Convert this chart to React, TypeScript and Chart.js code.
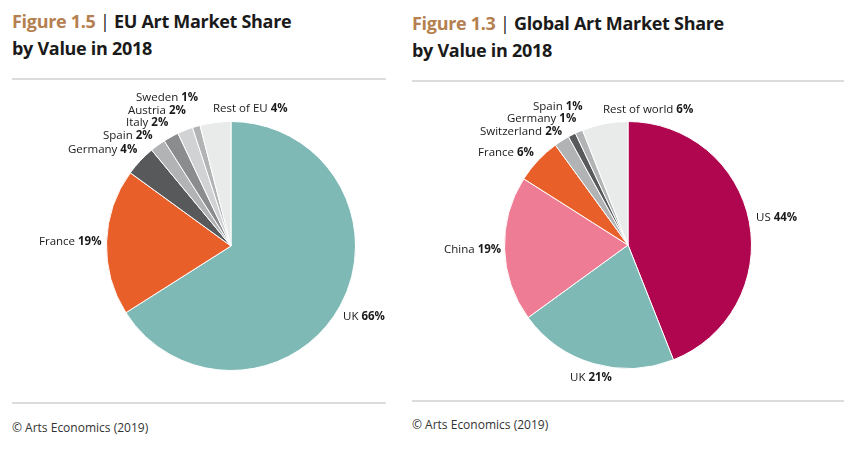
import { useEffect, useRef } from 'react'
import Chart from 'chart.js/auto'

const euCategories = ['UK', 'France', 'Germany', 'Spain', 'Italy', 'Austria', 'Sweden', 'Rest of EU']
const euValues = [66, 19, 4, 2, 2, 2, 1, 4]
const euColors = ['#7fb9b5', '#e95f2a', '#58595b', '#b1b3b4', '#8a8c8e', '#d0d2d3', '#b1b3b4', '#e9ebeb']

const globalCategories = ['US', 'UK', 'China', 'France', 'Switzerland', 'Germany', 'Spain', 'Rest of world']
const globalValues = [44, 21, 19, 6, 2, 1, 1, 6]
const globalColors = ['#b0064f', '#7fb9b5', '#ee7c94', '#e95f2a', '#b1b3b4', '#58595b', '#b1b3b4', '#e9ebeb']

// where each label starts, in page pixels (the source places them by hand)
const euLabelAt = [[343, 317], [39, 242], [68, 150], [103, 136], [126, 123], [128, 111], [136, 98], [213, 109]]
const globalLabelAt = [[756, 218], [570, 378], [444, 250], [478, 153], [480, 132], [507, 119], [533, 107], [603, 110]]

const FONT = '"Open Sans", sans-serif'

interface PieProps {
  categories: string[]
  values: number[]
  colors: string[]
  labelAt: number[][]
  cx: number
  cy: number
  radius: number
}

function SharePie({ categories, values, colors, labelAt, cx, cy, radius }: PieProps) {
  const canvasRef = useRef<HTMLCanvasElement>(null)
  const halfW = 200
  const halfH = 160
  const left = cx - halfW
  const top = cy - halfH

  useEffect(() => {
    if (!canvasRef.current) return
    const chart = new Chart(canvasRef.current, {
      type: 'pie',
      data: {
        labels: categories,
        datasets: [{
          data: values,
          backgroundColor: colors,
          borderColor: '#fff',
          borderWidth: 1,
        }],
      },
      options: {
        responsive: false,
        animation: false,
        layout: { padding: { top: halfH - radius, bottom: halfH - radius, left: halfW - radius, right: halfW - radius } },
        plugins: { legend: { display: false }, tooltip: { enabled: false } },
      },
      plugins: [{
        id: 'sliceLabels',
        afterDraw(c) {
          const { ctx } = c
          ctx.save()
          ctx.fillStyle = '#1a1a1a'
          ctx.textBaseline = 'middle'
          ctx.textAlign = 'left'
          categories.forEach((name, i) => {
            const x = labelAt[i][0] - left
            const y = labelAt[i][1] - top
            const head = `${name} `
            ctx.font = `11.5px ${FONT}`
            ctx.fillText(head, x, y)
            const w = ctx.measureText(head).width
            ctx.font = `bold 11.5px ${FONT}`
            ctx.fillText(`${values[i]}%`, x + w, y)
          })
          ctx.restore()
        },
      }],
    })
    return () => chart.destroy()
  }, [categories, values, colors, labelAt, left, top, radius])

  return (
    <canvas
      ref={canvasRef}
      width={halfW * 2}
      height={halfH * 2}
      style={{ position: 'absolute', left, top, width: halfW * 2, height: halfH * 2 }}
    />
  )
}

function Panel({ x, width, titleTop, figure, line1, line2, ruleTop, ruleBottom, sourceTop }: {
  x: number
  width: number
  titleTop: number
  figure: string
  line1: string
  line2: string
  ruleTop: number
  ruleBottom: number
  sourceTop: number
}) {
  const rule = { position: 'absolute' as const, left: x, width, height: 2, background: '#dcdcdc' }
  return (
    <>
      <div style={{ position: 'absolute', left: x, top: titleTop, fontFamily: FONT, fontWeight: 700, fontSize: 18, lineHeight: '27px', color: '#1a1a1a', whiteSpace: 'nowrap', letterSpacing: -0.3 }}>
        <span style={{ color: '#b5804f' }}>{figure}</span>
        <span style={{ fontWeight: 400 }}> | </span>
        {line1}
        <br />
        {line2}
      </div>
      <div style={{ ...rule, top: ruleTop }} />
      <div style={{ ...rule, top: ruleBottom }} />
      <div style={{ position: 'absolute', left: x, top: sourceTop, fontFamily: FONT, fontSize: 12, lineHeight: '16px', color: '#333', whiteSpace: 'nowrap' }}>
        © Arts Economics (2019)
      </div>
    </>
  )
}

export default function App() {
  return (
    <div style={{ position: 'absolute', left: 0, top: 0, width: 855, height: 465, overflow: 'hidden', background: '#fff' }}>
      <Panel x={12} width={374} titleTop={8} figure="Figure 1.5" line1="EU Art Market Share" line2="by Value in 2018" ruleTop={78} ruleBottom={402} sourceTop={420} />
      <Panel x={412} width={432} titleTop={10} figure="Figure 1.3" line1="Global Art Market Share" line2="by Value in 2018" ruleTop={80} ruleBottom={400} sourceTop={417} />
      <SharePie categories={euCategories} values={euValues} colors={euColors} labelAt={euLabelAt} cx={231} cy={246} radius={125} />
      <SharePie categories={globalCategories} values={globalValues} colors={globalColors} labelAt={globalLabelAt} cx={628} cy={245} radius={124} />
    </div>
  )
}
